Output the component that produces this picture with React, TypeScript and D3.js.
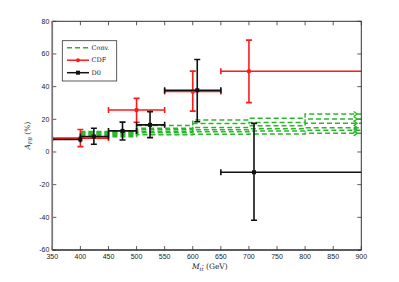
import React from "react"
import { scaleLinear, line, curveStepAfter, range } from "d3"

const width = 399
const height = 282

const margin = { top: 21.3, right: 37.7, bottom: 32, left: 52.3 }

// x ticks / y ticks
const xTicks = range(350, 901, 50)
const yTicks = range(-60, 81, 20)

// CDF measurements (red)
const cdfX = [400, 500, 600, 700]
const cdfY = [8.5, 25.7, 37, 49.4]
const cdfYLo = [3.3, 18.2, 25, 30.2]
const cdfYHi = [13.8, 32.8, 49.5, 68.5]
const cdfXLo = [350, 450, 550, 650]
const cdfXHi = [450, 550, 650, 1000]

// D0 measurements (black)
const d0X = [400, 424, 475, 524, 608, 709]
const d0Y = [7.6, 9.5, 12.9, 16.6, 37.8, -12.4]
const d0YLo = [7.6, 4.7, 7.3, 8.8, 18.5, -41.8]
const d0YHi = [7.6, 14.5, 18.3, 24.7, 56.6, 17.5]
const d0XLo = [350, 400, 450, 500, 550, 650]
const d0XHi = [400, 450, 500, 550, 650, 1000]

// Conv. predictions (green dashed steps), bins 400-500-600-700-800-900
const convEdges = [400, 500, 600, 700, 800, 900]
const conv1 = [11.6, 16.2, 19.6, 20.6, 23.3]
const conv2 = [12.6, 14.6, 17.4, 18.0, 20.2]
const conv3 = [11.8, 13.6, 15.0, 16.0, 17.6]
const conv4 = [10.8, 12.6, 13.6, 14.2, 14.9]
const conv5 = [10.2, 11.8, 12.4, 12.8, 13.3]
const conv6 = [9.4, 10.6, 10.8, 11.0, 11.4]
const convSeries = [conv1, conv2, conv3, conv4, conv5, conv6]

const legendItems = ["Conv.", "CDF", "D0"]

const green = "#2bb52b"
const red = "#ff1a1a"
const black = "#111111"

function ErrorBars({ xs, ys, yLo, yHi, xLo, xHi, color, square, xScale, yScale }) {
  const cap = 3
  return (
    <g stroke={color} strokeWidth={1.6} fill={color}>
      {xs.map((d, i) => {
        const cx = xScale(d)
        const cy = yScale(ys[i])
        const x0 = xScale(xLo[i])
        const x1 = xScale(xHi[i])
        const y0 = yScale(yLo[i])
        const y1 = yScale(yHi[i])
        return (
          <g key={i}>
            <line x1={x0} x2={x1} y1={cy} y2={cy} />
            <line x1={x0} x2={x0} y1={cy - cap} y2={cy + cap} />
            <line x1={x1} x2={x1} y1={cy - cap} y2={cy + cap} />
            {yLo[i] !== yHi[i] && (
              <g>
                <line x1={cx} x2={cx} y1={y0} y2={y1} />
                <line x1={cx - cap} x2={cx + cap} y1={y0} y2={y0} />
                <line x1={cx - cap} x2={cx + cap} y1={y1} y2={y1} />
              </g>
            )}
            {square
              ? <rect x={cx - 2} y={cy - 2} width={4} height={4} stroke="none" />
              : <circle cx={cx} cy={cy} r={2.2} stroke="none" />}
          </g>
        )
      })}
    </g>
  )
}

function App() {
  const innerWidth = width - margin.left - margin.right
  const innerHeight = height - margin.top - margin.bottom

  const xScale = scaleLinear().domain([350, 900]).range([margin.left, margin.left + innerWidth])
  const yScale = scaleLinear().domain([-60, 80]).range([margin.top + innerHeight, margin.top])

  const stepLine = line<number>()
    .x((_, i) => xScale(convEdges[i]))
    .y((d) => yScale(d))
    .curve(curveStepAfter)

  const left = xScale(350)
  const right = xScale(900)
  const top = yScale(80)
  const bottom = yScale(-60)
  const tick = 4

  return (
    <svg width={width} height={height} style={{ position: "absolute", left: 0, top: 0, background: "#fff" }}>
      <defs>
        <clipPath id="plot">
          <rect x={left} y={top} width={right - left} height={bottom - top} />
        </clipPath>
      </defs>

      {/* ticks */}
      <g stroke="#333" strokeWidth={0.8}>
        {xTicks.map((t) => (
          <g key={"x" + t}>
            <line x1={xScale(t)} x2={xScale(t)} y1={bottom} y2={bottom - tick} />
            <line x1={xScale(t)} x2={xScale(t)} y1={top} y2={top + tick} />
          </g>
        ))}
        {yTicks.map((t) => (
          <g key={"y" + t}>
            <line x1={left} x2={left + tick} y1={yScale(t)} y2={yScale(t)} />
            <line x1={right} x2={right - tick} y1={yScale(t)} y2={yScale(t)} />
          </g>
        ))}
      </g>

      <g clipPath="url(#plot)">
        {/* Conv. */}
        <g fill="none" stroke={green} strokeWidth={1.5} strokeDasharray="5,3">
          {convSeries.map((s, i) => (
            <path key={i} d={stepLine([...s, s[s.length - 1]])} />
          ))}
        </g>
        <g fill="none" stroke={green} strokeWidth={1.3}>
          {convSeries.map((s, i) => {
            const ex = xScale(890)
            const ey = yScale(s[s.length - 1])
            return <path key={i} d={`M${ex - 2},${ey - 2.5}L${ex + 1.5},${ey}L${ex - 2},${ey + 2.5}`} />
          })}
        </g>

        <ErrorBars xs={cdfX} ys={cdfY} yLo={cdfYLo} yHi={cdfYHi} xLo={cdfXLo} xHi={cdfXHi}
          color={red} square={false} xScale={xScale} yScale={yScale} />
        <ErrorBars xs={d0X} ys={d0Y} yLo={d0YLo} yHi={d0YHi} xLo={d0XLo} xHi={d0XHi}
          color={black} square={true} xScale={xScale} yScale={yScale} />
      </g>

      {/* axes box */}
      <rect x={left} y={top} width={right - left} height={bottom - top} fill="none" stroke="#333" strokeWidth={1} />
      <line x1={left} x2={left} y1={top} y2={bottom} stroke="#777" strokeWidth={1.6} />
      <line x1={left} x2={right} y1={bottom} y2={bottom} stroke="#222" strokeWidth={1.2} />

      {/* tick labels */}
      <g fontFamily="Liberation Sans, Arial, sans-serif" fontSize={7} fill="#222">
        {xTicks.map((t) => (
          <text key={"xl" + t} x={xScale(t)} y={bottom + 9} textAnchor="middle">{t}</text>
        ))}
        {yTicks.map((t) => (
          <text key={"yl" + t} x={left - 3} y={yScale(t)} dy="0.35em" textAnchor="end">{t}</text>
        ))}
      </g>

      {/* axis labels */}
      <text x={(left + right) / 2 + 3} y={bottom + 19} textAnchor="middle"
        fontFamily="DejaVu Serif, serif" fontSize={7.5} fill="#222">
        <tspan fontStyle="italic">M</tspan>
        <tspan fontStyle="italic" fontSize={5} dy={1.5}>tt̄</tspan>
        <tspan dy={-1.5}> (GeV)</tspan>
      </text>
      <text transform={`translate(${left - 22}, ${(top + bottom) / 2}) rotate(-90)`} textAnchor="middle"
        fontFamily="DejaVu Serif, serif" fontSize={7.5} fill="#222">
        <tspan fontStyle="italic">A</tspan>
        <tspan fontStyle="italic" fontSize={5} dy={1.5}>FB</tspan>
        <tspan dy={-1.5}> (%)</tspan>
      </text>

      {/* legend */}
      <g>
        <rect x={62.3} y={40.7} width={54.4} height={40.3} fill="#fff" stroke="#333" strokeWidth={0.8} />
        {legendItems.map((name, i) => {
          const ly = 47.7 + i * 12.5
          const color = i === 0 ? green : i === 1 ? red : black
          return (
            <g key={name}>
              <line x1={67} x2={89} y1={ly} y2={ly} stroke={color} strokeWidth={1.5}
                strokeDasharray={i === 0 ? "5,3" : undefined} />
              {i === 1 && <circle cx={78} cy={ly} r={2} fill={red} />}
              {i === 2 && <rect x={76} y={ly - 2} width={4} height={4} fill={black} />}
              <text x={91.5} y={ly} dy="0.35em" fontFamily="DejaVu Serif, serif" fontSize={6.5} fill="#222">{name}</text>
            </g>
          )
        })}
      </g>
    </svg>
  )
}

export default App
